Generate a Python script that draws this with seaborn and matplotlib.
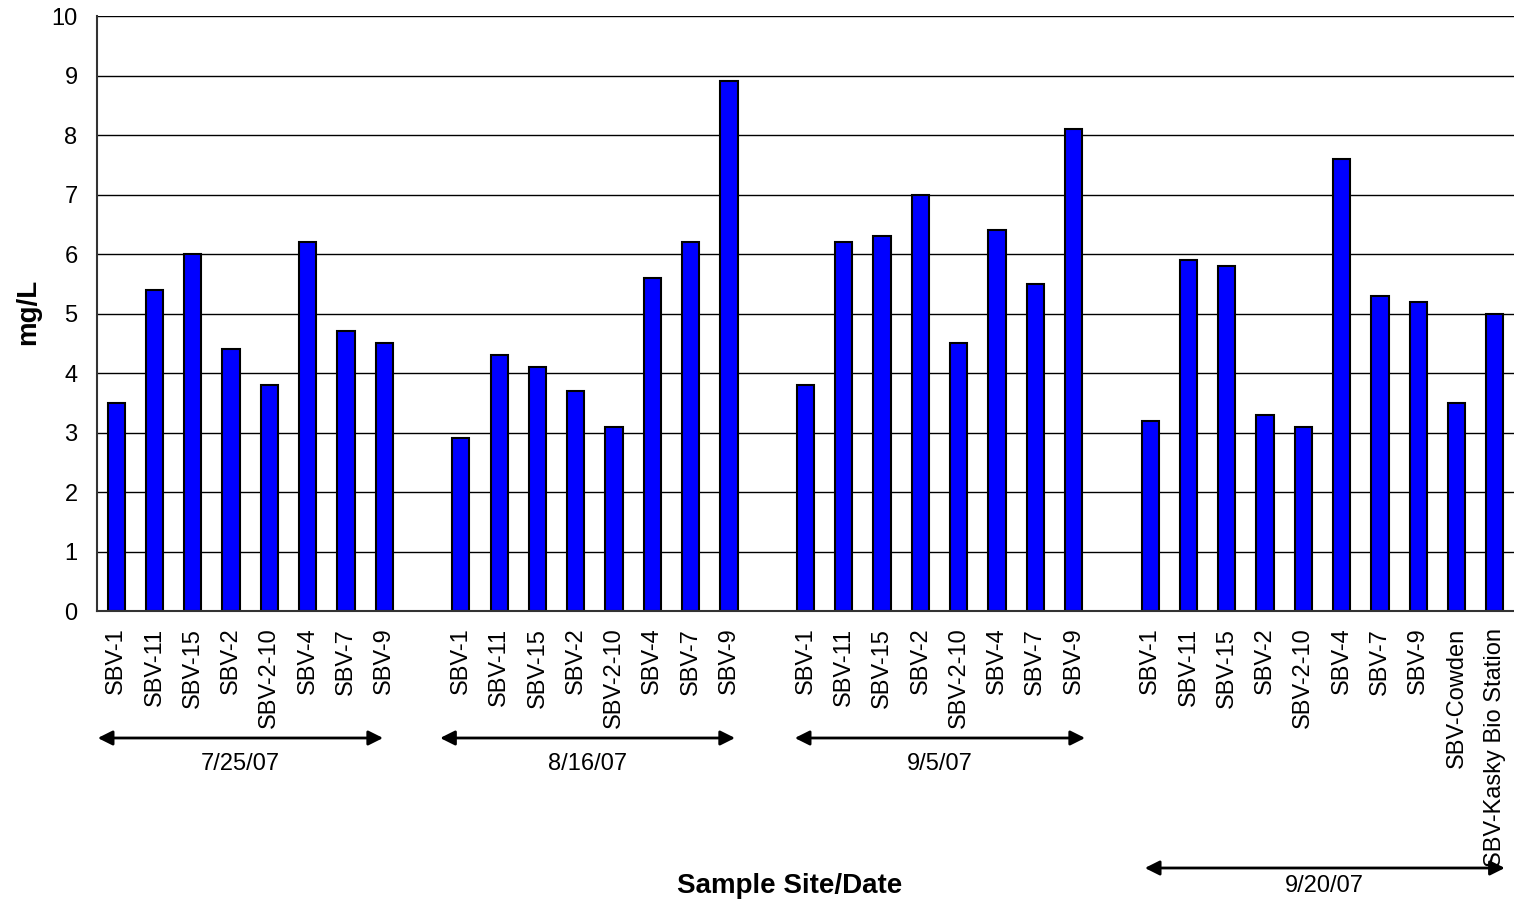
import numpy as np
import pandas as pd
import matplotlib.pyplot as plt
import seaborn as sns

# data
dates = ['7/25/07', '8/16/07', '9/5/07', '9/20/07']
sites_std = ['SBV-1', 'SBV-11', 'SBV-15', 'SBV-2', 'SBV-2-10', 'SBV-4', 'SBV-7', 'SBV-9']
sites_last = sites_std + ['SBV-Cowden', 'SBV-Kasky Bio Station']
vals_0725 = [3.5, 5.4, 6.0, 4.4, 3.8, 6.2, 4.7, 4.5]
vals_0816 = [2.9, 4.3, 4.1, 3.7, 3.1, 5.6, 6.2, 8.9]
vals_0905 = [3.8, 6.2, 6.3, 7.0, 4.5, 6.4, 5.5, 8.1]
vals_0920 = [3.2, 5.9, 5.8, 3.3, 3.1, 7.6, 5.3, 5.2, 3.5, 5.0]

groups = [(dates[0], sites_std, vals_0725), (dates[1], sites_std, vals_0816),
          (dates[2], sites_std, vals_0905), (dates[3], sites_last, vals_0920)]

rows = []
order = []
labels = []
for gi, (d, sites, vals) in enumerate(groups):
    if gi > 0:
        order.append('gap%d' % gi)
        labels.append('')
    for s, v in zip(sites, vals):
        key = d + '|' + s
        rows.append({'key': key, 'val': v})
        order.append(key)
        labels.append(s)
df = pd.DataFrame(rows)

sns.set_style('white')
plt.rcParams['font.family'] = ['Liberation Sans', 'DejaVu Sans']
plt.rcParams['text.color'] = 'black'
plt.rcParams['xtick.labelcolor'] = 'black'
plt.rcParams['ytick.labelcolor'] = 'black'

fig = plt.figure(figsize=(15.14, 9.05), dpi=100)
ax = fig.add_axes([97 / 1514, 1 - 611 / 905, 1 - 97 / 1514, 595 / 905])

sns.barplot(data=df, x='key', y='val', order=order, color='#0000FF',
            edgecolor='black', linewidth=1.5, width=0.45, saturation=1, ax=ax)

ax.set_ylim(0, 10)
ax.set_xlim(-0.5, len(order) - 0.5)
ax.set_yticks(range(0, 11))
ax.yaxis.grid(True, color='black', linewidth=1)
ax.set_axisbelow(True)
for sp in ['top', 'right']:
    ax.spines[sp].set_visible(False)
for sp in ['left', 'bottom']:
    ax.spines[sp].set_color('#333333')
    ax.spines[sp].set_linewidth(1.5)

ax.set_xticks(range(len(order)))
ax.set_xticklabels(labels, rotation=90, ha='center', va='top', fontsize=17, color='black')
ax.set_xticks(np.arange(-0.5, len(order), 1), minor=True)
ax.tick_params(axis='x', which='major', length=0, pad=12)
ax.tick_params(axis='x', which='minor', length=7, width=1, color='#333333', direction='out')
ax.tick_params(axis='y', length=8, width=1, color='#333333', direction='out',
               labelsize=17, labelcolor='black', pad=6)

ax.set_xlabel('')
ax.set_ylabel('')
fig.text(28 / 1514, 1 - 312 / 905, 'mg/L', rotation=90, fontsize=20,
         fontweight='bold', ha='center', va='center', color='black')
fig.text(790 / 1514, 1 - 886 / 905, 'Sample Site/Date', fontsize=20,
         fontweight='bold', ha='center', va='center', color='black')

# date span arrows: (start, end in category units, arrow y px, text y px)
arrow_pos = {
    '7/25/07': (-0.48, 6.97, 738, 764),
    '8/16/07': (8.46, 16.16, 738, 764),
    '9/5/07': (17.72, 25.3, 738, 764),
    '9/20/07': (26.86, 36.26, 868, 886),
}
for d in dates:
    x0, x1, ya, yt = arrow_pos[d]
    ax.annotate('', xy=(x1, 1 - ya / 905), xytext=(x0, 1 - ya / 905),
                xycoords=('data', 'figure fraction'),
                textcoords=('data', 'figure fraction'),
                arrowprops=dict(arrowstyle='<|-|>', color='black', lw=2,
                                mutation_scale=22, shrinkA=0, shrinkB=0),
                annotation_clip=False)
    ax.annotate(d, xy=((x0 + x1) / 2, 1 - yt / 905),
                xycoords=('data', 'figure fraction'),
                ha='center', va='center', fontsize=17, color='black',
                annotation_clip=False)

fig.savefig('out.png', dpi=100)
